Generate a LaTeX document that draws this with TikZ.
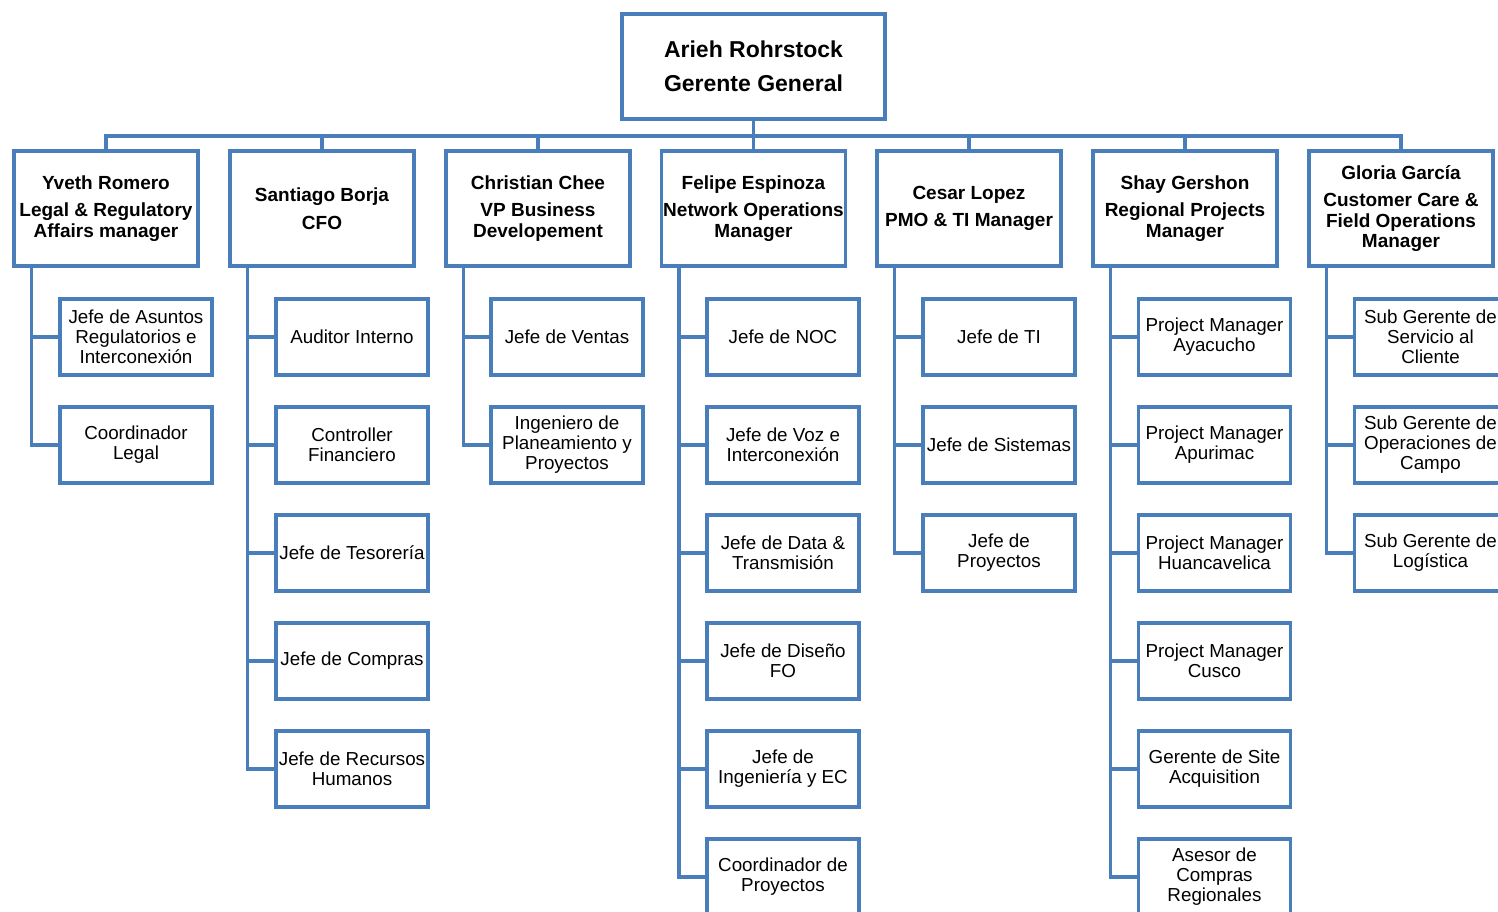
\documentclass[tikz,border=0pt]{standalone}
\usepackage{fontspec}
\setmainfont{Liberation Sans}
\definecolor{orgblue}{RGB}{74,126,187}
\tikzset{
  topbox/.style={draw=orgblue, line width=3.5pt, minimum width=263pt, minimum height=105pt, inner sep=0pt, fill=white},
  headbox/.style={draw=orgblue, line width=3.5pt, minimum width=184pt, minimum height=115pt, inner sep=0pt, fill=white},
  kid/.style={draw=orgblue, line width=3.5pt, minimum width=152pt, minimum height=76pt, inner sep=0pt, fill=white},
  toptxt/.style={align=center, inner sep=0pt, font=\fontsize{23}{34}\selectfont\bfseries},
  headtxt/.style={align=center, inner sep=0pt, font=\fontsize{19}{20.5}\selectfont\bfseries},
  kidtxt/.style={align=center, inner sep=0pt, font=\fontsize{18.8}{20}\selectfont},
  wire/.style={draw=orgblue, line width=3.5pt},
}
\newcommand\kidbox[4]{\node[kid] (#1) at (#2,#3) {}; \node[kidtxt] (#1t) at (#1) {#4};}
\newcommand\headnode[5]{\node[headbox] (#1) at (#2,#3) {}; \node[headtxt] (#1t) at (#1) {#4\\[7pt]#5};}
\begin{document}
\begin{tikzpicture}[x=1pt,y=-1pt]
\useasboundingbox (0,0) rectangle (1498,911);
\clip (0,0) rectangle (1498,911);
\fill[white] (0,0) rectangle (1498,911);

% top
\node[topbox] (top) at (753.5,66.5) {};
\node[toptxt] (topt) at (top) {Arieh Rohrstock\\Gerente General};
\coordinate (bus) at (753.5,136);

% level 2
\headnode{h1}{106}{208.5}{Yveth Romero}{Legal \& Regulatory\\Affairs manager}
\headnode{h2}{322}{208.5}{Santiago Borja}{CFO}
\headnode{h3}{538}{208.5}{Christian Chee}{VP Business\\Developement}
\headnode{h4}{753.5}{208.5}{Felipe Espinoza}{Network Operations\\Manager}
\headnode{h5}{969}{208.5}{Cesar Lopez}{PMO \& TI Manager}
\headnode{h6}{1185}{208.5}{Shay Gershon}{Regional Projects\\Manager}
\headnode{h7}{1401}{208.5}{Gloria García}{Customer Care \&\\Field Operations\\Manager}

% level 3
\kidbox{a1}{136}{337}{Jefe de Asuntos\\Regulatorios e\\Interconexión}
\kidbox{a2}{136}{445}{Coordinador\\Legal}

\kidbox{b1}{352}{337}{Auditor Interno}
\kidbox{b2}{352}{445}{Controller\\Financiero}
\kidbox{b3}{352}{553}{Jefe de Tesorería}
\kidbox{b4}{352}{661}{Jefe de Compras}
\kidbox{b5}{352}{769}{Jefe de Recursos\\Humanos}

\kidbox{c1}{567}{337}{Jefe de Ventas}
\kidbox{c2}{567}{445}{Ingeniero de\\Planeamiento y\\Proyectos}

\kidbox{d1}{783}{337}{Jefe de NOC}
\kidbox{d2}{783}{445}{Jefe de Voz e\\Interconexión}
\kidbox{d3}{783}{553}{Jefe de Data \&\\Transmisión}
\kidbox{d4}{783}{661}{Jefe de Diseño\\FO}
\kidbox{d5}{783}{769}{Jefe de\\Ingeniería y EC}
\kidbox{d6}{783}{877}{Coordinador de\\Proyectos}

\kidbox{e1}{999}{337}{Jefe de TI}
\kidbox{e2}{999}{445}{Jefe de Sistemas}
\kidbox{e3}{999}{553}{Jefe de\\Proyectos}

\kidbox{f1}{1214.5}{337}{Project Manager\\Ayacucho}
\kidbox{f2}{1214.5}{445}{Project Manager\\Apurimac}
\kidbox{f3}{1214.5}{553}{Project Manager\\Huancavelica}
\kidbox{f4}{1214.5}{661}{Project Manager\\Cusco}
\kidbox{f5}{1214.5}{769}{Gerente de Site\\Acquisition}
\kidbox{f6}{1214.5}{877}{Asesor de\\Compras\\Regionales}

\kidbox{g1}{1430.5}{337}{Sub Gerente de\\Servicio al\\Cliente}
\kidbox{g2}{1430.5}{445}{Sub Gerente de\\Operaciones de\\Campo}
\kidbox{g3}{1430.5}{553}{Sub Gerente de\\Logística}

% connectors top -> heads
\draw[wire] (top.south) -- (bus);
\foreach \h in {h1,h2,h3,h4,h5,h6,h7} \draw[wire] (bus) -| (\h.north);

% connectors heads -> kids
\foreach \h/\k in {h1/a1,h1/a2,
  h2/b1,h2/b2,h2/b3,h2/b4,h2/b5,
  h3/c1,h3/c2,
  h4/d1,h4/d2,h4/d3,h4/d4,h4/d5,h4/d6,
  h5/e1,h5/e2,h5/e3,
  h6/f1,h6/f2,h6/f3,h6/f4,h6/f5,h6/f6,
  h7/g1,h7/g2,h7/g3}
  \draw[wire] ([xshift=19pt]\h.south west) |- (\k.west);
\end{tikzpicture}
\end{document}
